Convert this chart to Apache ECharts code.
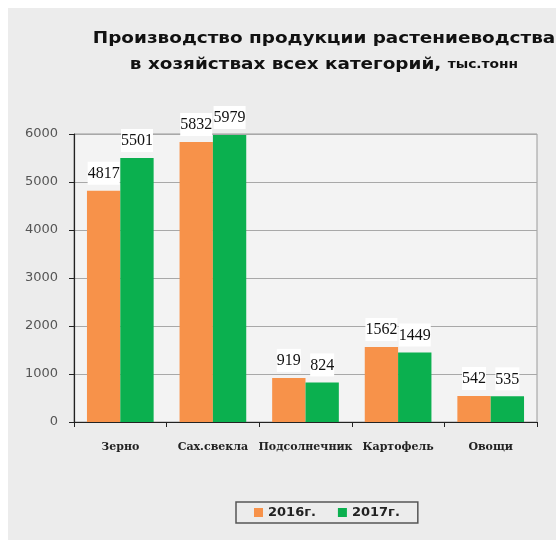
<!DOCTYPE html>
<html>
<head>
<meta charset="utf-8">
<script src="https://cdn.jsdelivr.net/npm/echarts@6/dist/echarts.min.js"></script>
<style>
  html, body { margin: 0; padding: 0; background: #ffffff; }
  #wrap { position: relative; width: 556px; height: 540px; background: #ffffff; }
  #chart { position: absolute; left: 8px; top: 8px; width: 548px; height: 532px; background: #ececec; }
</style>
</head>
<body>
<div id="wrap"><div id="chart"></div></div>
<script>
// Crop production by category, thousand tonnes
const categories = ['Зерно', 'Сах.свекла', 'Подсолнечник', 'Картофель', 'Овощи'];
const values2016 = [4817, 5832, 919, 1562, 542];
const values2017 = [5501, 5979, 824, 1449, 535];
const seriesNames = ['2016г.', '2017г.'];
const yTicks = { min: 0, max: 6000, interval: 1000 };
const titleLine1 = 'Производство продукции растениеводства';
const titleLine2 = 'в хозяйствах всех категорий, ';
const titleUnit = 'тыс.тонн';

const chart = echarts.init(document.getElementById('chart'), null, { renderer: 'canvas' });

const valueLabel = {
  show: true,
  position: 'top',
  distance: 6,
  fontFamily: 'Liberation Serif',
  fontWeight: 'normal',
  fontSize: 16,
  color: '#111',
  backgroundColor: '#ffffff',
  padding: [4, 0, 3, 0]
};

chart.setOption({
  backgroundColor: 'transparent',
  animation: false,
  graphic: [
    {
      // two-line heading, widened to the heading's letterform proportions
      type: 'text',
      x: 316,
      y: 18,
      scaleX: 1.15,
      style: {
        text: '{a|' + titleLine1 + '}\n{a|' + titleLine2 + '}{b|' + titleUnit + '}',
        align: 'center',
        verticalAlign: 'top',
        rich: {
          a: { fontFamily: 'DejaVu Sans', fontWeight: 'bold', fontSize: 16, fill: '#111', lineHeight: 26 },
          b: { fontFamily: 'DejaVu Sans', fontWeight: 'bold', fontSize: 12, fill: '#111', lineHeight: 26 }
        }
      }
    }
  ],
  legend: {
    left: 228,
    top: 494,
    orient: 'horizontal',
    icon: 'rect',
    itemWidth: 9,
    itemHeight: 9,
    itemGap: 22,
    padding: [4, 18, 4, 18],
    borderColor: '#555',
    borderWidth: 1.5,
    textStyle: { fontFamily: 'DejaVu Sans', fontWeight: 'bold', fontSize: 13, color: '#222' },
    data: seriesNames
  },
  grid: {
    left: 66, right: 19, top: 126, bottom: 118,
    show: true,
    backgroundColor: '#f3f3f3',
    borderColor: '#9a9a9a',
    borderWidth: 1
  },
  xAxis: {
    type: 'category',
    data: categories,
    axisLine: { lineStyle: { color: '#222', width: 1.2 } },
    axisTick: { show: true, length: 5, lineStyle: { color: '#222' } },
    axisLabel: {
      interval: 0,
      margin: 20,
      fontFamily: 'DejaVu Serif',
      fontWeight: 'bold',
      fontSize: 11,
      color: '#222'
    }
  },
  yAxis: {
    type: 'value',
    min: yTicks.min,
    max: yTicks.max,
    interval: yTicks.interval,
    axisLine: { show: true, lineStyle: { color: '#222', width: 1.2 } },
    axisTick: { show: true, length: 5, lineStyle: { color: '#222' } },
    axisLabel: {
      margin: 16,
      fontFamily: 'DejaVu Sans',
      fontSize: 13,
      color: '#555',
      formatter: function (v) { return String(v); }
    },
    splitLine: { lineStyle: { color: '#a8a8a8', width: 1 } }
  },
  series: [
    {
      name: seriesNames[0],
      type: 'bar',
      data: values2016,
      barGap: '0%',
      barCategoryGap: '28%',
      itemStyle: { color: '#f7924a' },
      label: valueLabel,
      labelLayout: { moveOverlap: 'shiftY' }
    },
    {
      name: seriesNames[1],
      type: 'bar',
      data: values2017,
      itemStyle: { color: '#0bb04f' },
      label: valueLabel,
      labelLayout: { moveOverlap: 'shiftY' }
    }
  ]
});
</script>
</body>
</html>
